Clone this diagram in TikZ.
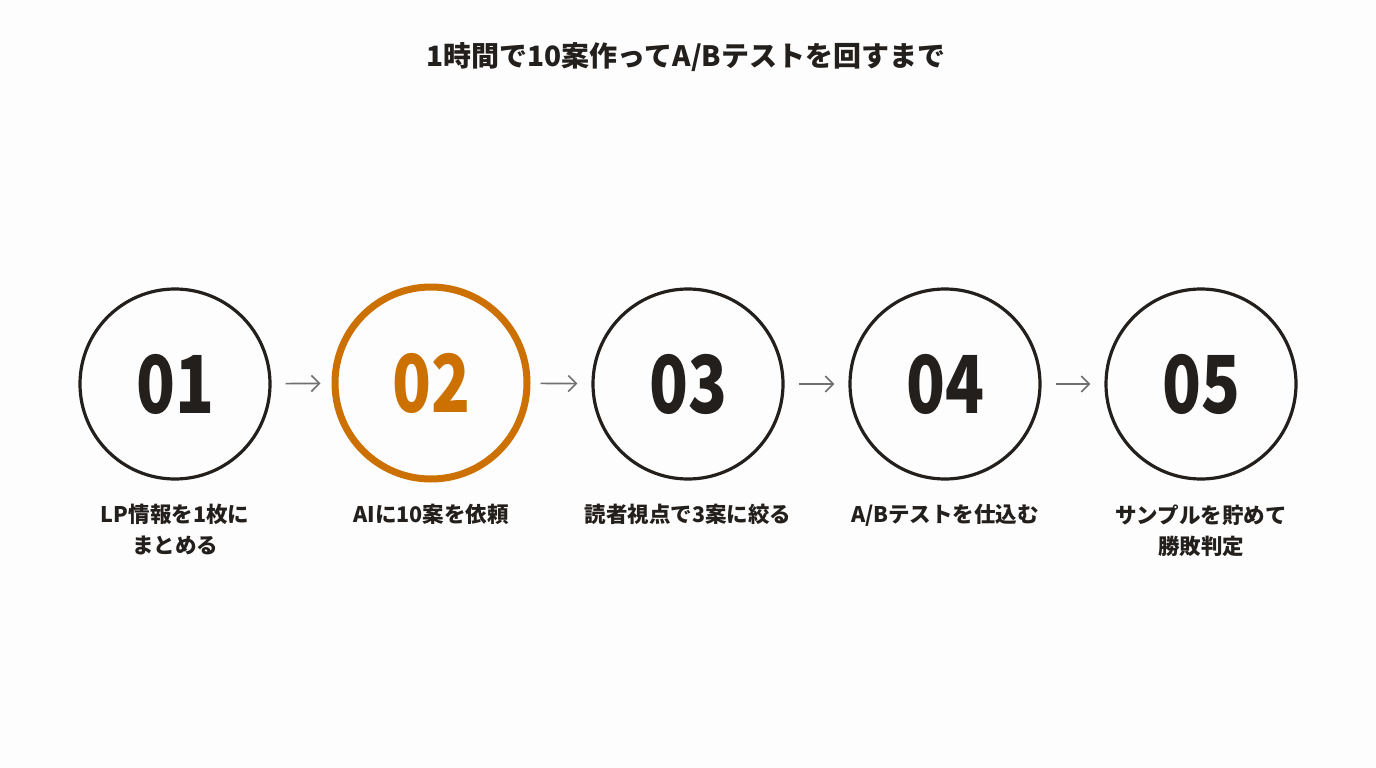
\documentclass[tikz,border=0pt]{standalone}
\usepackage{fontspec}
\setmainfont{Noto Sans CJK JP}
\usetikzlibrary{arrows.meta}
\definecolor{ink}{HTML}{231F1C}
\definecolor{accent}{HTML}{CC7000}
\definecolor{arrowgray}{HTML}{707070}
\definecolor{bg}{HTML}{FDFDFD}
\tikzset{
  stepcircle/.style={circle, draw=ink, line width=3.2pt, minimum size=190pt, inner sep=0pt, text=ink,
    font=\fontsize{80}{80}\selectfont\bfseries},
  activecircle/.style={stepcircle, draw=accent, text=accent, line width=7pt, minimum size=192pt},
  steplabel/.style={text=ink, align=center, font=\fontsize{21.5}{31}\selectfont\bfseries, anchor=north},
  flow/.style={draw=arrowgray, line width=1.6pt, -{Straight Barb[length=8pt,width=16pt,line width=1.6pt]}},
  titletext/.style={text=ink, font=\fontsize{28}{28}\selectfont\bfseries}
}
\newcommand{\numtxt}[1]{\scalebox{0.8}[1]{#1}}
\begin{document}
\begin{tikzpicture}[x=1pt,y=-1pt]
\fill[bg] (0,0) rectangle (1376,768);
\useasboundingbox (0,0) rectangle (1376,768);
\node[titletext] (title) at (686,57) {1時間で10案作ってA/Bテストを回すまで};
\node[stepcircle] (c1) at (175,384) {\numtxt{01}};
\node[activecircle] (c2) at (431,383) {\numtxt{02}};
\node[stepcircle] (c3) at (688,384) {\numtxt{03}};
\node[stepcircle] (c4) at (945,384) {\numtxt{04}};
\node[stepcircle] (c5) at (1201,384) {\numtxt{05}};
\draw[flow, shorten <=14pt, shorten >=11pt] (c1) -- (c2);
\draw[flow, shorten <=10pt, shorten >=14pt] (c2) -- (c3);
\draw[flow, shorten <=14pt, shorten >=14pt] (c3) -- (c4);
\draw[flow, shorten <=14pt, shorten >=14pt] (c4) -- (c5);
\node[steplabel] (l1) at (175,501) {LP情報を1枚に\\まとめる};
\node[steplabel] (l2) at (431,501) {AIに10案を依頼};
\node[steplabel] (l3) at (688,501) {読者視点で3案に絞る};
\node[steplabel] (l4) at (945,501) {A/Bテストを仕込む};
\node[steplabel] (l5) at (1201,501) {サンプルを貯めて\\勝敗判定};
\end{tikzpicture}
\end{document}
